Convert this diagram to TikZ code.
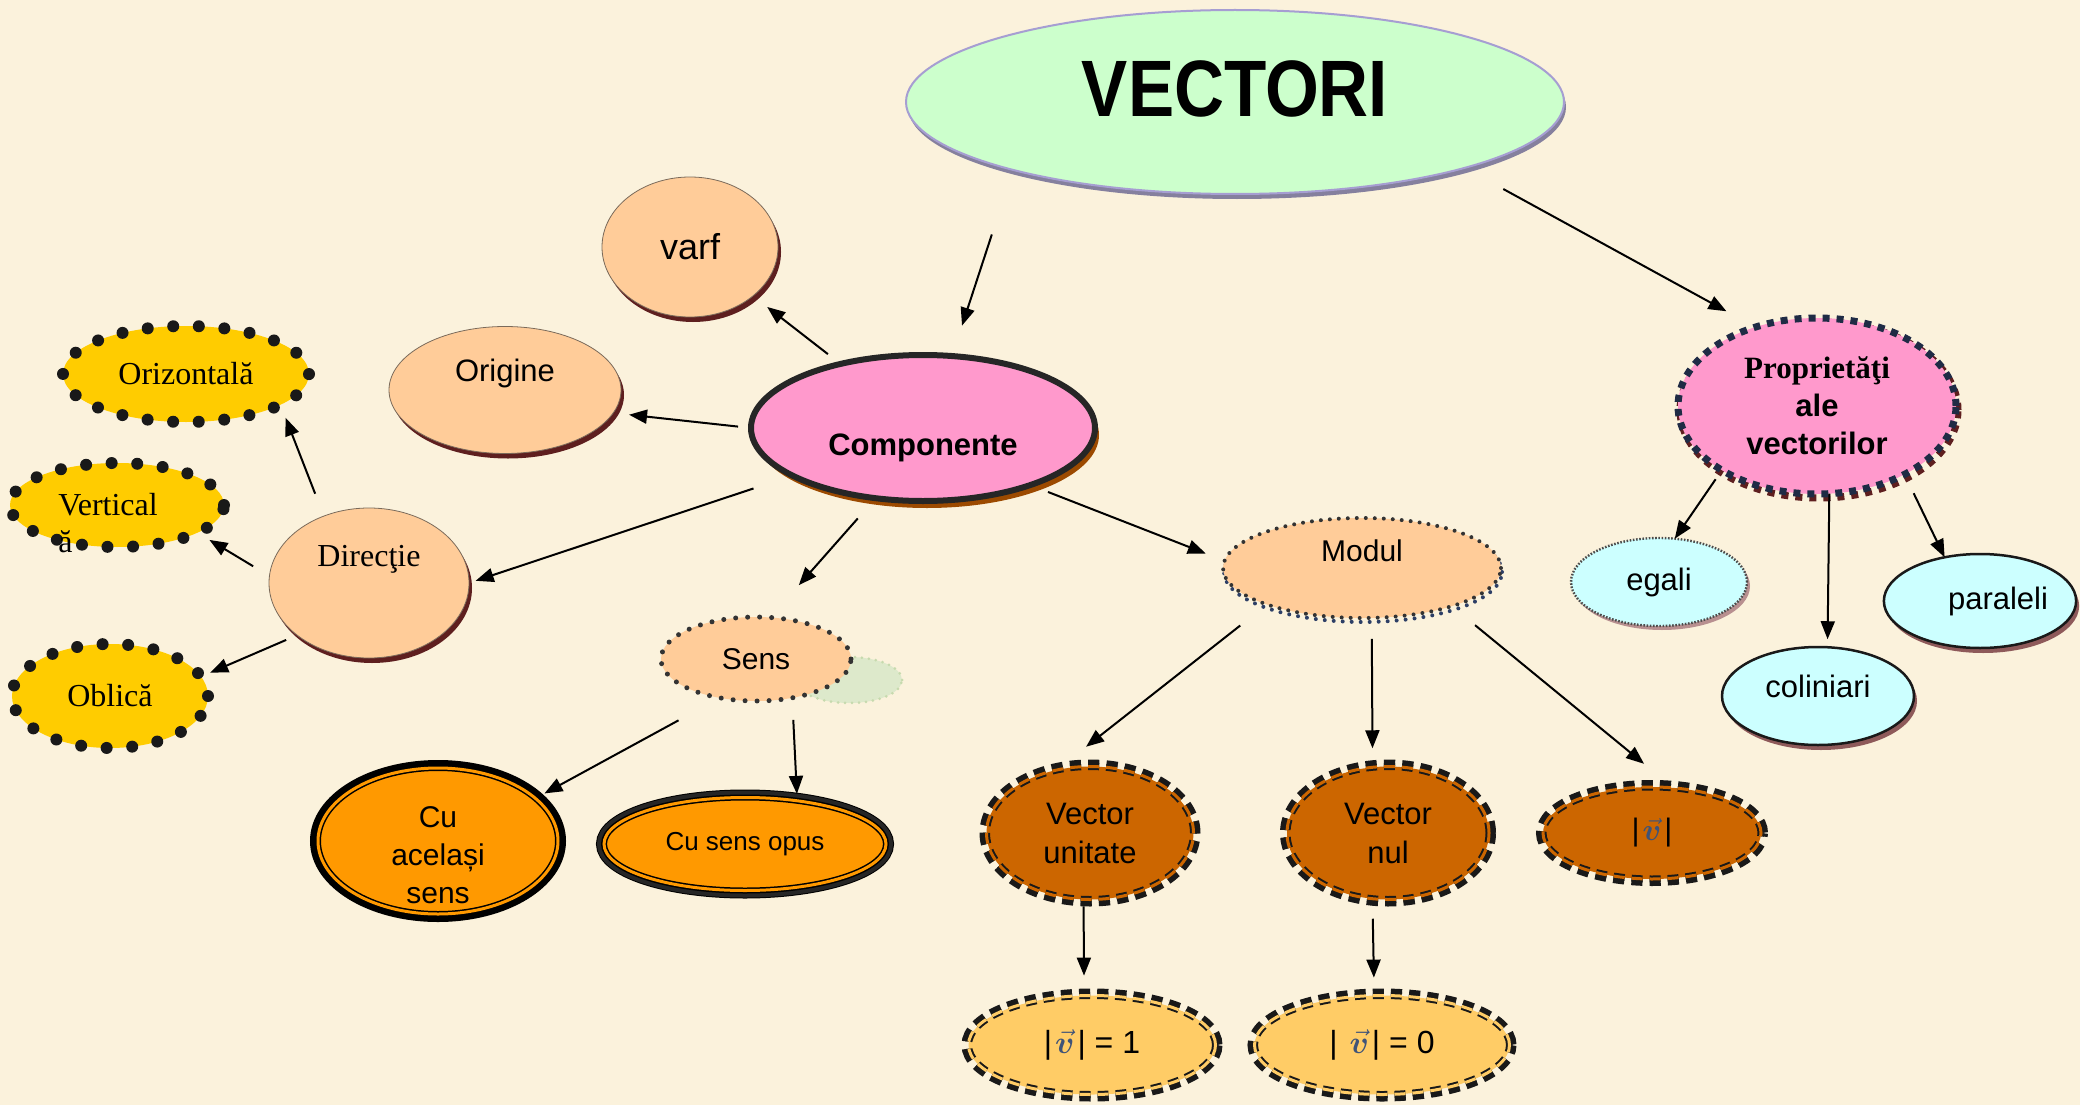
\RequirePackage{fix-cm}
\documentclass[tikz,border=0pt]{standalone}
\usepackage{fontspec}
\setmainfont{Liberation Sans}
\newfontfamily\tnr{Liberation Serif}
\usepackage{graphicx}
\usepackage{bm}
\usepackage{tikz}
\usetikzlibrary{shapes.geometric,arrows.meta,shadows,calc}

\definecolor{bgcream}{HTML}{FBF2DC}
\definecolor{vgreen}{HTML}{CCFFCC}
\definecolor{vline}{HTML}{A69ED2}
\definecolor{vshade}{HTML}{85809E}
\definecolor{peach}{HTML}{FFCC99}
\definecolor{peachline}{HTML}{7A6A5A}
\definecolor{maroonshade}{HTML}{5E1F1F}
\definecolor{pinkfill}{HTML}{FF99CC}
\definecolor{darkline}{HTML}{262626}
\definecolor{compshade}{HTML}{9C4A00}
\definecolor{goldfill}{HTML}{FFCC00}
\definecolor{orangefill}{HTML}{FF9900}
\definecolor{rustfill}{HTML}{CC6600}
\definecolor{lightgold}{HTML}{FFCC66}
\definecolor{navyline}{HTML}{1F2B45}
\definecolor{navyshade}{HTML}{2D3F66}
\definecolor{cyanfill}{HTML}{CCFFFF}
\definecolor{cyanshade}{HTML}{8E5A5A}
\definecolor{egalishade}{HTML}{B89090}
\definecolor{vecblue}{HTML}{3F5378}
\definecolor{ghostgreen}{HTML}{DDE9CB}
\definecolor{ghostline}{HTML}{C7DAAE}

\newcommand{\vv}{\hspace{3pt}{\color{vecblue}$\vec{\bm v}$}\hspace{3pt}}

\begin{document}
\begin{tikzpicture}[x=1pt,y=-1pt,
    every node/.style={inner sep=0pt,outer sep=0pt,align=center,font=\fontsize{31}{38}\selectfont},
    sz/.style 2 args={minimum width=#1pt,minimum height=#2pt},
    titlebox/.style={ellipse,fill=vgreen,draw=vline,line width=2pt,
      font=\bfseries\fontsize{80}{90}\selectfont,
      drop shadow={fill=vshade,opacity=1,shadow xshift=2pt,shadow yshift=-5pt}},
    pinkbox/.style={ellipse,fill=pinkfill,draw=darkline,line width=6pt,
      font=\bfseries\fontsize{31}{38}\selectfont,
      drop shadow={fill=compshade,opacity=1,shadow xshift=4pt,shadow yshift=-7pt}},
    peachbox/.style={ellipse,fill=peach,draw=peachline,line width=0.8pt,
      drop shadow={fill=maroonshade,opacity=1,shadow xshift=3pt,shadow yshift=-5pt}},
    goldbox/.style={ellipse,fill=goldfill,draw=black!90,line width=12pt,
      dash pattern=on 0pt off 25.6pt,line cap=round,font=\tnr\fontsize{32}{38}\selectfont},
    sensbox/.style={ellipse,fill=peach,draw=black!80,line width=5pt,
      dash pattern=on 0pt off 12pt,line cap=round,font=\fontsize{30}{36}\selectfont},
    modbox/.style={sensbox,line width=4pt,dash pattern=on 0pt off 9pt,
      drop shadow={draw=navyshade,fill=none,line width=4pt,dash pattern=on 0pt off 9pt,
        line cap=round,opacity=1,shadow xshift=1pt,shadow yshift=-4pt}},
    cubox/.style={ellipse,fill=orangefill,draw=black,double=orangefill,double distance=3pt,
      line width=1.5pt,preaction={draw=black,line width=16pt}},
    rustbox/.style={ellipse,fill=rustfill,draw=black!90,double=rustfill,double distance=3pt,
      line width=2pt,dash pattern=on 11pt off 7pt,outer sep=7pt,
      preaction={draw=black!90,line width=14pt,dash pattern=on 11pt off 7pt},
      font=\fontsize{31}{39}\selectfont},
    goldvbox/.style={rustbox,fill=lightgold,double=lightgold,font=\fontsize{32}{38}\selectfont},
    propbox/.style={ellipse,fill=pinkfill,draw=navyline,line width=7pt,
      dash pattern=on 7pt off 7pt,font=\bfseries\fontsize{31}{38}\selectfont,
      drop shadow={draw=maroonshade,fill=none,line width=7pt,dash pattern=on 7pt off 7pt,
        opacity=1,shadow xshift=2pt,shadow yshift=-4pt}},
    egalibox/.style={ellipse,fill=cyanfill,draw=black!70,line width=2.4pt,
      dash pattern=on 1.6pt off 1.6pt,
      drop shadow={fill=egalishade,opacity=1,shadow xshift=3pt,shadow yshift=-4pt}},
    cyanbox/.style={ellipse,fill=cyanfill,draw=black!90,line width=2.5pt,
      drop shadow={fill=cyanshade,opacity=1,shadow xshift=3pt,shadow yshift=-5pt}},
    arr/.style={-{Triangle[length=18pt,width=14pt]},line width=2pt}]

  % Background
  \fill[bgcream] (0,0) rectangle (2080,1105);
  \useasboundingbox (0,0) rectangle (2080,1105);

  % Title and main branches
  \node[titlebox,sz={658}{184},text height=57pt,text depth=28pt] (vect) at (1235,102)
    {\scalebox{0.865}[1]{VECTORI}};
  \node[pinkbox,sz={344}{146},text height=61pt,text depth=7pt] (comp) at (923,428) {Componente};
  \node[propbox,sz={278}{176}] (prop) at (1817,406) {{\tnr Proprietăţi}\\ale\\vectorilor};

  % Componente
  \node[peachbox,sz={176}{140},font=\fontsize{36}{40}\selectfont] (varf) at (690,247) {varf};
  \node[peachbox,sz={232}{127},text height=23pt,text depth=41pt] (orig) at (505,390) {Origine};
  \node[peachbox,sz={200}{150},font=\tnr\fontsize{32}{38}\selectfont,
    text height=22pt,text depth=55pt] (dir) at (369,583) {Direcţie};

  % Directii
  \node[goldbox,sz={246}{96}] (oriz) at (186,374) {Orizontală};
  \node[goldbox,sz={214}{84}] (vert) at (117,505) {Vertical\hspace*{18pt}};
  \node[anchor=text,font=\tnr\fontsize{32}{38}\selectfont] (vertA) at ($(vert.text)+(0,37)$) {ă};
  \node[goldbox,sz={196}{104}] (obl) at (110,696) {Oblică};

  % Sens
  \draw[fill=ghostgreen,draw=ghostline,line width=3pt,dash pattern=on 0pt off 7pt,line cap=round]
    (849,680) ellipse [x radius=53pt,y radius=23pt];
  \node[sensbox,sz={190}{84}] (sens) at (756,659) {Sens};
  \node[cubox,sz={240}{146},outer sep=8pt,font=\fontsize{30}{38}\selectfont] (cuas) at (438,841)
    {\raisebox{-24pt}[0pt][0pt]{\begin{tabular}{c}Cu\\același\\sens\end{tabular}}};
  \node[cubox,sz={282}{93},outer sep=7pt,preaction={draw=darkline,line width=14pt},
    font=\fontsize{26}{30}\selectfont] (cuso) at (745,844) {Cu sens opus};

  % Modul
  \node[modbox,sz={278}{100},text height=22pt,text depth=36pt] (modul) at (1362,568) {Modul};
  \node[rustbox,sz={207}{133}] (vu) at (1090,833) {Vector\\unitate};
  \node[rustbox,sz={202}{133}] (vn) at (1388,833) {Vector\\nul};
  \node[rustbox,sz={218}{92}] (vmod) at (1652,833) {|\vv|};
  \node[goldvbox,sz={247}{99}] (v1) at (1092,1045) {|\vv| = 1};
  \node[goldvbox,sz={255}{99}] (v0) at (1382,1045) {| \vv| = 0};

  % Proprietati
  \node[egalibox,sz={176}{88}] (egali) at (1659,582) {egali};
  \node[cyanbox,sz={192}{98},text depth=20pt] (coli) at (1818,696) {coliniari};
  \node[cyanbox,sz={188}{94}] (para) at (1980,601) {\hspace*{36pt}paraleli};

  % Arrows
  \draw[arr,shorten <=68pt,shorten >=32pt] (vect.197) -- (comp.68);
  \draw[arr,shorten <=44pt,shorten >=33pt] (vect.344) -- (prop.128);
  \draw[arr,shorten <=16pt,shorten >=18pt] (comp) -- (varf);
  \draw[arr,shorten <=13pt,shorten >=16pt] (comp.180) -- (orig.348);
  \draw[arr,shorten <=41pt,shorten >=7pt] (comp.200) -- (dir.east);
  \draw[arr,shorten <=27pt,shorten >=43pt] (comp.236) -- (sens.71);
  \draw[arr,shorten <=19pt,shorten >=20pt] (comp.332) -- (modul.177);
  \draw[arr,shorten <=24pt,shorten >=14pt] (dir.124) -- (oriz.342);
  \draw[arr,shorten <=19pt,shorten >=14pt] (dir.176) -- (vert.341);
  \draw[arr,shorten <=12pt,shorten >=10pt] (dir.216) -- (obl.12);
  \draw[arr,shorten <=47pt,shorten >=2pt] (sens.227) -- (cuas.24);
  \draw[arr,shorten <=22pt] (sens.313) -- (cuso.44);
  \draw[arr,shorten <=34pt,shorten >=23pt] (modul.201) -- (vu.107);
  \draw[arr,shorten <=21pt,shorten >=12pt] (modul.281) -- (vn.102);
  \draw[arr,shorten <=30pt,shorten >=26pt] (modul.337) -- (vmod.77);
  \draw[arr,shorten >=13pt] (vu.265) -- (v1.98);
  \draw[arr,shorten <=13pt,shorten >=11pt] (vn.258) -- (v0.98);
  \draw[arr,shorten <=11pt] (prop.214) -- (egali.70);
  \draw[arr,shorten >=8pt] (prop.278) -- (coli.79);
  \draw[arr,shorten <=21pt] (prop.322) -- (para.129);
\end{tikzpicture}
\end{document}
